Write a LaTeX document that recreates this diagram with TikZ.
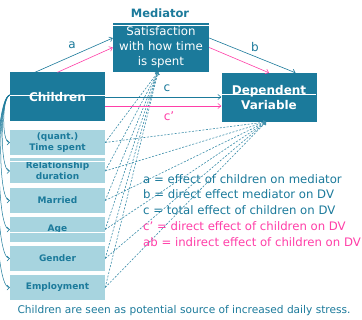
\documentclass[tikz,border=0pt]{standalone}
\usepackage{fontspec}
\setmainfont{DejaVu Sans}
\usetikzlibrary{arrows.meta}
\definecolor{teal1}{HTML}{1B7A9B}
\definecolor{lightb}{HTML}{A7D4DF}
\definecolor{pink1}{HTML}{FF3FA8}
\tikzset{
  darkbox/.style={fill=teal1, draw=none, minimum width=95pt, minimum height=49pt, inner sep=0pt, text=white, font=\bfseries\fontsize{12}{15}\selectfont, align=center},
  lightbox/.style={fill=lightb, draw=none, minimum width=95pt, minimum height=25pt, inner sep=0pt, text=teal1, font=\bfseries\fontsize{9}{11}\selectfont, align=center},
  tarr/.style={draw=teal1, line width=0.6pt, -{Straight Barb[length=3pt,width=5pt]}},
  parr/.style={draw=pink1, line width=0.6pt, -{Straight Barb[length=3pt,width=5pt]}},
  dsh/.style={draw=teal1!85, line width=0.6pt, dash pattern=on 2pt off 1.5pt},
  curv/.style={draw=teal1, line width=0.5pt, -{Straight Barb[length=2.5pt,width=5pt]}},
  lbl/.style={font=\fontsize{12}{14}\selectfont},
  leg/.style={anchor=west, inner sep=0pt, font=\fontsize{11.7}{14}\selectfont},
}
\begin{document}
\begin{tikzpicture}[x=1pt,y=-1pt]
\useasboundingbox (0,0) rectangle (362,320);
\fill[white] (0,0) rectangle (362,320);
% main boxes
\node[darkbox, font=\fontsize{11.8}{15}\selectfont, minimum width=96pt] (med) at (161,47.5) {Satisfaction\\with how time\\is spent};
\node[font=\bfseries\fontsize{11.5}{13}\selectfont, text=teal1] (medt) at (160,13) {Mediator};
\node[darkbox] (ch) at (57.5,97) {Children};
\node[darkbox] (dv) at (269,97.5) {Dependent\\Variable};
\draw[white, line width=0.5pt] (med.north west) ++(0,2.5) -- ++(96,0);
\draw[white, line width=0.4pt] (ch.west) ++(0,-2) -- ++(95,0);
\draw[white, line width=0.4pt] (dv.west) ++(0,-3) -- ++(95,0);
% light boxes
\node[lightbox] (t1) at (57.5,142.5) {(quant.)\\Time spent};
\node[lightbox] (t2) at (57.5,171) {Relationship\\duration};
\node[lightbox] (t3) at (57.5,200.5) {Married};
\node[lightbox] (t4) at (57.5,229.5) {Age};
\node[lightbox] (t5) at (57.5,258.5) {Gender};
\node[lightbox] (t6) at (57.5,287.5) {Employment};
\draw[white, line width=0.4pt] (t2.north west) ++(0,3) -- ++(95,0);
\draw[white, line width=0.4pt] (t4.north west) ++(0,15) -- ++(95,0);
% coordinates
\coordinate (medb) at (158,72);
\coordinate (dvb) at (266,122);
% dashed lines
\foreach \n in {t1,t2,t3,t4,t5,t6}{
  \draw[dsh, -{Straight Barb[length=2pt,width=4pt]}] (\n.east) -- (medb);
  \draw[dsh, -{Straight Barb[length=2pt,width=4pt]}] (\n.east) -- (dvb);
}
% paths
\draw[tarr] ([xshift=-22.5pt]ch.north) -- ([yshift=9.5pt]med.west);
\draw[parr] (ch.north) -- (med.west);
\draw[tarr] ([yshift=9.5pt]med.east) -- ([xshift=26.5pt]dv.north);
\draw[parr] (med.east) -- (dv.north);
\draw[tarr] (ch.east) -- (ch.east -| dv.west);
\draw[parr] ([yshift=-9pt]ch.east) -- ([yshift=-9pt]ch.east -| dv.west);
\node[lbl, text=teal1] (la) at (72,45) {a};
\node[lbl, text=teal1] (lb) at (255,47) {b};
\node[lbl, text=teal1] (lc) at (167,88) {c};
\node[lbl, text=pink1] (lcp) at (169,116) {c'};
% left curves
\foreach \n/\d in {t1/8,t2/10,t3/12,t4/14,t5/16,t6/18}{
  \draw[curv] ([yshift=2pt]ch.west) .. controls +(-\d,3) and +(-\d,0) .. (\n.west);
}
% legend
\node[leg, text=teal1] (g1) at (143,179) {a = effect of children on mediator};
\node[leg, text=teal1] (g2) at (143,194.5) {b = direct effect mediator on DV};
\node[leg, text=teal1] (g3) at (143,210) {c = total effect of children on DV};
\node[leg, text=pink1] (g4) at (143,226) {c' = direct effect of children on DV};
\node[leg, text=pink1] (g5) at (143,242) {ab = indirect effect of children on DV};
\node[text=teal1, font=\fontsize{10.6}{12}\selectfont] (cap) at (184,311) {Children are seen as potential source of increased daily stress.};
\end{tikzpicture}
\end{document}
